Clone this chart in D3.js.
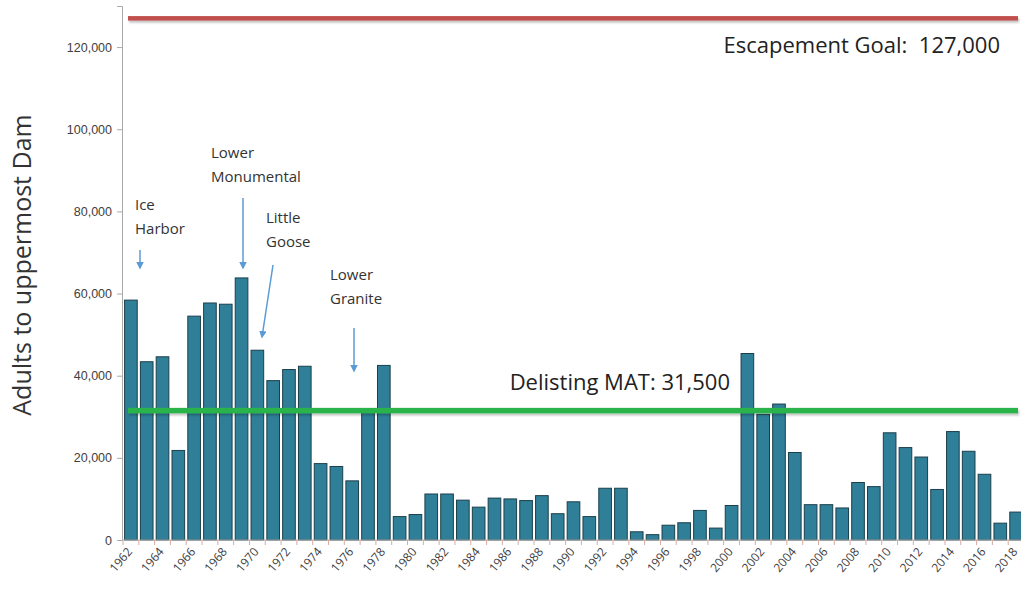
<!DOCTYPE html>
<html lang="en">
<head>
  <meta charset="UTF-8">
  <title>Adults to uppermost Dam</title>
  <script src="https://d3js.org/d3.v7.min.js"></script>
  <style>
    body { margin: 0; background: #fff; font-family: "Open Sans", sans-serif; }
    svg { display: block; }
    .ytick text { fill: #404040; font-size: 12.5px; }
    .note { fill: #333; font-size: 15px; }
    .big { fill: #222; font-size: 22px; }
  </style>
</head>
<body>
  <svg width="1021" height="589"></svg>

  <script>
    const years = d3.range(1962, 2019);
    const adults = [
      58400, 43400, 44600, 21800, 54500, 57700, 57400, 63800, 46200, 38800,
      41500, 42300, 18600, 17900, 14400, 31000, 42500, 5700, 6200, 11200,
      11200, 9700, 8000, 10200, 10000, 9600, 10800, 6400, 9300, 5700,
      12600, 12600, 2000, 1300, 3600, 4200, 7200, 2900, 8400, 45400,
      30600, 33100, 21300, 8600, 8600, 7800, 14000, 13000, 26100, 22500,
      20200, 12300, 26400, 21600, 16000, 4100, 6800
    ];
    const yTicks = [0, 20000, 40000, 60000, 80000, 100000, 120000];
    const goal = 127000;
    const mat = 31500;
    const dams = [
      { name: ["Ice", "Harbor"], x: 135, y: 210, arrow: [140, 250, 140, 268] },
      { name: ["Lower", "Monumental"], x: 211, y: 158, arrow: [243, 198, 243, 268] },
      { name: ["Little", "Goose"], x: 266, y: 223, arrow: [273, 265, 262, 337] },
      { name: ["Lower", "Granite"], x: 330, y: 280, arrow: [354, 328, 354, 371] }
    ];

    const svg = d3.select("svg");
    const margin = { left: 123, top: 5, bottom: 540 };

    const defs = svg.append("defs");
    defs.append("filter").attr("id", "shadow")
      .attr("filterUnits", "userSpaceOnUse")
      .attr("x", 0).attr("y", 0).attr("width", 1021).attr("height", 589)
      .append("feDropShadow")
      .attr("dx", 1).attr("dy", 2).attr("stdDeviation", 1.2)
      .attr("flood-color", "#000").attr("flood-opacity", 0.25);
    defs.append("marker").attr("id", "head")
      .attr("viewBox", "0 0 10 10").attr("refX", 8).attr("refY", 5)
      .attr("markerWidth", 5).attr("markerHeight", 5).attr("orient", "auto")
      .append("path").attr("d", "M0,0 L10,5 L0,10 Z").attr("fill", "#5b9bd5");

    const x = d3.scaleBand().domain(years).range([margin.left, 1024])
      .paddingInner(0.2).paddingOuter(0.1);
    const y = d3.scaleLinear().domain([0, 130000]).range([margin.bottom, 6]);

    // y axis
    const yAxis = svg.append("g").attr("class", "ytick")
      .attr("transform", `translate(${margin.left - 1},0)`)
      .call(d3.axisLeft(y).tickValues(yTicks).tickSize(5).tickPadding(5)
        .tickFormat(d3.format(",")));
    yAxis.select(".domain").attr("stroke", "#aaa");
    yAxis.selectAll(".tick line").attr("stroke", "#aaa");

    // bars
    svg.append("g").selectAll("rect")
      .data(adults).enter().append("rect")
      .attr("x", (d, i) => x(years[i]))
      .attr("y", d => y(d))
      .attr("width", x.bandwidth())
      .attr("height", d => y(0) - y(d))
      .attr("fill", "#2f7f98")
      .attr("stroke", "#1c3f4c")
      .attr("stroke-width", 1);

    // x axis
    const xg = svg.append("g").attr("transform", `translate(0,${margin.bottom})`);
    xg.append("line").attr("x1", margin.left - 1).attr("x2", 1021)
      .attr("stroke", "#aaa");
    xg.selectAll(".sep")
      .data(years).enter().append("line")
      .attr("x1", d => x(d) - x.step() * x.paddingInner() / 2)
      .attr("x2", d => x(d) - x.step() * x.paddingInner() / 2)
      .attr("y1", 0).attr("y2", 5)
      .attr("stroke", "#d9aaa0");
    xg.selectAll("text")
      .data(years.filter(d => d % 2 === 0)).enter().append("text")
      .attr("transform", d => `translate(${x(d) + x.bandwidth() / 2 + 2},${12}) rotate(-50)`)
      .attr("text-anchor", "end")
      .attr("fill", "#404040")
      .attr("font-size", "12px")
      .text(d => d);

    // reference lines
    svg.append("rect")
      .attr("x", 128).attr("width", 890)
      .attr("y", y(goal) - 2.25).attr("height", 4.5)
      .attr("fill", "#c0504d")
      .attr("filter", "url(#shadow)");
    svg.append("rect")
      .attr("x", 128).attr("width", 890)
      .attr("y", y(mat) - 2.75).attr("height", 5.5)
      .attr("fill", "#2ab34b")
      .attr("filter", "url(#shadow)");

    svg.append("text").attr("class", "big")
      .attr("x", 1000).attr("y", 53).attr("text-anchor", "end")
      .text("Escapement Goal:\u00a0 127,000");
    svg.append("text").attr("class", "big")
      .attr("x", 730).attr("y", 390).attr("text-anchor", "end")
      .text("Delisting MAT: 31,500");

    // dam annotations
    const note = svg.append("g").selectAll("g")
      .data(dams).enter().append("g");
    note.append("text").attr("class", "note")
      .attr("x", d => d.x).attr("y", d => d.y)
      .text(d => d.name[0]);
    note.append("text").attr("class", "note")
      .attr("x", d => d.x).attr("y", d => d.y + 24)
      .text(d => d.name[1]);
    note.append("line")
      .attr("x1", d => d.arrow[0]).attr("y1", d => d.arrow[1])
      .attr("x2", d => d.arrow[2]).attr("y2", d => d.arrow[3])
      .attr("stroke", "#5b9bd5").attr("stroke-width", 1.5)
      .attr("marker-end", "url(#head)");

    // y title
    svg.append("text")
      .attr("transform", "translate(31,265) rotate(-90)")
      .attr("text-anchor", "middle")
      .attr("fill", "#333")
      .attr("font-size", "25px")
      .text("Adults to uppermost Dam");
  </script>
</body>
</html>
